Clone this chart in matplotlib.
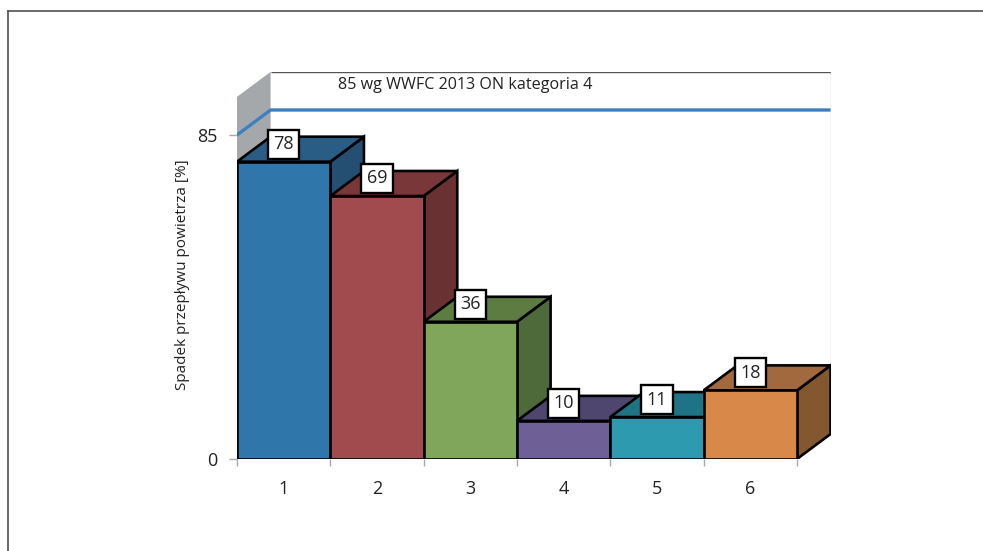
import matplotlib
matplotlib.use("Agg")
import matplotlib.pyplot as plt
from matplotlib.patches import Polygon
from matplotlib.lines import Line2D

# --- data ---------------------------------------------------------------
categories = ["1", "2", "3", "4", "5", "6"]
values = [78, 69, 36, 10, 11, 18]
threshold = 85
threshold_label = "85 wg WWFC 2013 ON kategoria 4"
y_label = "Spadek przepływu powietrza [%]"
y_ticks = [0, 85]

front_colors = ["#2f76ab", "#a14b4e", "#80a65c", "#6e6097", "#2e9ab0", "#d88849"]
top_colors = ["#2a5d85", "#7a3739", "#5d7c41", "#4e466f", "#1e7484", "#a2693f"]
side_colors = ["#244f73", "#6a3133", "#4f6a3a", "#42395f", "#186470", "#83582f"]

plt.rcParams["font.family"] = ["Open Sans", "DejaVu Sans"]

W, H = 983, 551
fig = plt.figure(figsize=(W / 100, H / 100), dpi=100)

# pseudo-3D geometry (depth offset in data units)
DX, DY = 0.36, 6.56
YMAX = 95
left_px, base_px = 237, 459
ux, uy = 560 / 6, 324 / 85
ax_w, ax_h = ux * (len(values) + DX), uy * (YMAX + DY)
ax = fig.add_axes([left_px / W, (H - base_px) / H, ax_w / W, ax_h / H])
ax.set_xlim(0.5, len(values) + 0.5 + DX)
ax.set_ylim(0, YMAX + DY)
ax.patch.set_alpha(0)
for s in ax.spines.values():
    s.set_visible(False)

x_left = 0.5
x_right = len(values) + 0.5

# left wall
ax.add_patch(Polygon([(x_left, 0), (x_left + DX, DY), (x_left + DX, YMAX + DY),
                      (x_left, YMAX)], closed=True, facecolor="#a5a8ab",
                     edgecolor="none", zorder=1))
# back wall edges
ax.plot([x_left + DX, x_right + DX], [YMAX + DY, YMAX + DY], color="#555555",
        lw=1.0, zorder=1, solid_capstyle="butt")
ax.plot([x_right + DX, x_right + DX], [DY, YMAX + DY], color="#cccccc",
        lw=1.0, zorder=1)

# threshold line running along the left and back walls
ax.plot([x_left, x_left + DX, x_right + DX],
        [threshold, threshold + DY, threshold + DY],
        color="#3d80c2", lw=2.4, zorder=2, solid_capstyle="butt")
ax.text(x_left + (338 - left_px) / ux, (base_px - 85) / uy, threshold_label,
        ha="left", va="center", fontsize=11.6, color="#222222", zorder=2)

# bars
for i, v in enumerate(values):
    x0 = i + 0.5
    x1 = x0 + 1
    z = 3 + i * 3
    ekw = dict(edgecolor="black", linewidth=1.9, joinstyle="miter", closed=True)
    ax.add_patch(Polygon([(x1, 0), (x1 + DX, DY), (x1 + DX, v + DY), (x1, v)],
                         facecolor=side_colors[i], zorder=z, **ekw))
    ax.add_patch(Polygon([(x0, v), (x1, v), (x1 + DX, v + DY), (x0 + DX, v + DY)],
                         facecolor=top_colors[i], zorder=z + 1, **ekw))
    ax.add_patch(Polygon([(x0, 0), (x1, 0), (x1, v), (x0, v)],
                         facecolor=front_colors[i], zorder=z + 2, **ekw))
    ax.annotate(str(v), xy=(x0 + 0.5, v), xytext=(0, 17.5),
                textcoords="offset pixels", ha="center", va="center",
                fontsize=13, color="#222222", zorder=40,
                bbox=dict(boxstyle="square,pad=0.3", facecolor="white",
                          edgecolor="black", linewidth=1.7))

# axes ticks
centers = list(range(1, len(values) + 1))
ax.set_xticks(centers)
ax.set_xticklabels(categories, fontsize=13, color="#222222")
ax.set_xticks([c - 0.5 for c in centers] + [x_right], minor=True)
ax.tick_params(axis="x", which="major", length=0, pad=15)
ax.tick_params(axis="x", which="minor", length=5, color="#a8a8a8", width=1)
ax.set_yticks(y_ticks)
ax.set_yticklabels([str(t) for t in y_ticks], fontsize=13, color="#222222")
ax.tick_params(axis="y", length=6, color="#a8a8a8", width=1, pad=8)

fig.text(183 / W, 1 - 275 / H, y_label, rotation=90, ha="center", va="center",
         fontsize=11, color="#222222")

# outer frame
fig.add_artist(Line2D([8 / W, 1], [1 - 11 / H, 1 - 11 / H], color="#505050",
                      lw=1.2, transform=fig.transFigure))
fig.add_artist(Line2D([8 / W, 8 / W], [0, 1 - 11 / H], color="#505050",
                      lw=1.2, transform=fig.transFigure))

fig.savefig("out.png", dpi=100)
